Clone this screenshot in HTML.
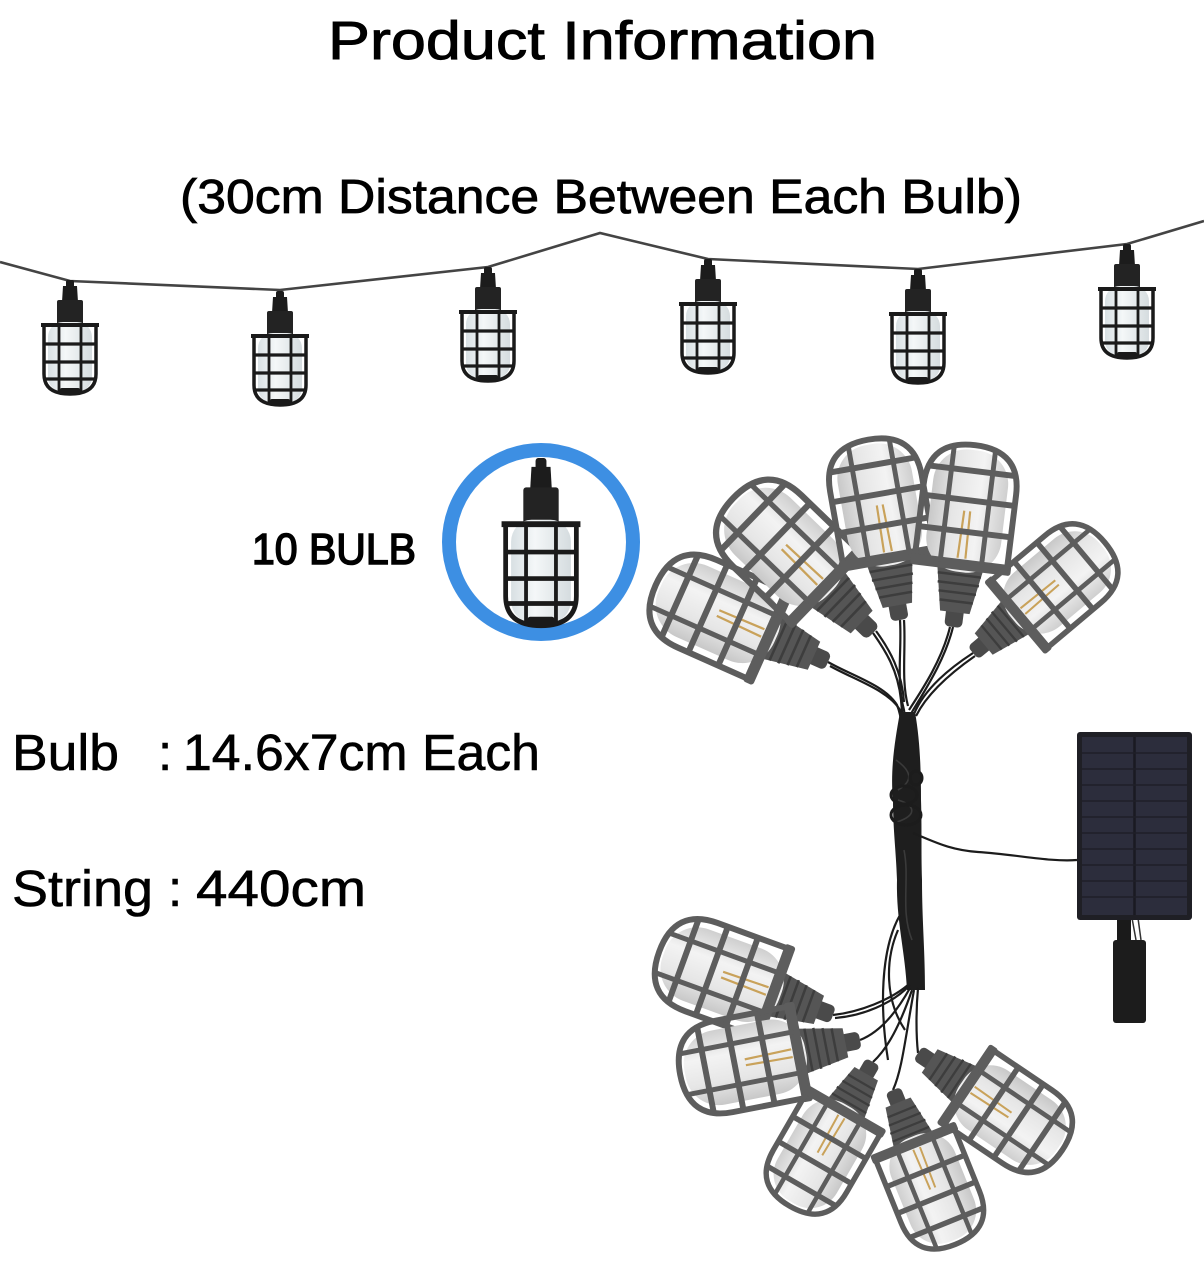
<!DOCTYPE html>
<html>
<head>
<meta charset="utf-8">
<style>
  html,body{margin:0;padding:0;background:#fff;}
  body{width:1204px;height:1280px;overflow:hidden;}
  svg{display:block;}
  .t{font-family:"Liberation Sans",sans-serif;fill:#000;stroke:#000;}
</style>
</head>
<body>
<svg width="1204" height="1280" viewBox="0 0 1204 1280" xmlns="http://www.w3.org/2000/svg">
  <defs>
    <linearGradient id="glass" x1="0" y1="0" x2="1" y2="0">
      <stop offset="0" stop-color="#cfcfcf"/>
      <stop offset="0.35" stop-color="#f3f3f3"/>
      <stop offset="0.7" stop-color="#e6e6e6"/>
      <stop offset="1" stop-color="#c8c8c8"/>
    </linearGradient>
    <linearGradient id="glass2" x1="0" y1="0" x2="1" y2="0">
      <stop offset="0" stop-color="#d8e0e3"/>
      <stop offset="0.4" stop-color="#f4f7f8"/>
      <stop offset="1" stop-color="#d5dcdf"/>
    </linearGradient>
    <g id="big">
      <rect x="-9" y="0" width="18" height="20" rx="5" fill="#4a4a4a"/>
      <path d="M-15 15 L15 15 L24 64 L-24 64 Z" fill="#555"/>
      <path d="M-17 26 H17 M-19 35 H19 M-21 44 H21 M-22 53 H22" stroke="#3d3d3d" stroke-width="2.5"/>
      <rect x="-38" y="56" width="76" height="124" rx="34" fill="url(#glass)"/>
      <path d="M-4 70 L-3 118 M4 70 L3 118" stroke="#c9a25a" stroke-width="2.2" fill="none"/>
      <path d="M-47 64 L-47 140 Q-47 185 0 185 Q47 185 47 140 L47 64" fill="none" stroke="#5d5d5d" stroke-width="6"/>
      <rect x="-51" y="58" width="102" height="11" rx="3" fill="#5d5d5d"/>
      <path d="M-48 97 H48 M-48 129 H48 M-45 159 H45" stroke="#5d5d5d" stroke-width="6"/>
      <path d="M-21 64 V183 M21 64 V183" stroke="#5d5d5d" stroke-width="5"/>
    </g>
    <g id="sm">
      <rect x="-4" y="0" width="8" height="8" rx="2" fill="#1c1c1c"/>
      <path d="M-7 6 H7 L8 22 H-8 Z" fill="#1c1c1c"/>
      <rect x="-13" y="20" width="26" height="25" rx="2" fill="#232323"/>
      <rect x="-22" y="42" width="44" height="70" rx="15" fill="url(#glass2)"/>
      <path d="M-26 45 V94 Q-26 114 0 114 Q26 114 26 94 V45" fill="none" stroke="#1a1a1a" stroke-width="3.5"/>
      <path d="M-29 45 H29" stroke="#1a1a1a" stroke-width="4"/>
      <path d="M-27 64 H27 M-27 82 H27 M-25 99 H25" stroke="#1a1a1a" stroke-width="3.2"/>
      <path d="M-11 45 V112 M11 45 V112" stroke="#1a1a1a" stroke-width="2.8"/>
      <rect x="-10" y="108" width="20" height="7" rx="2" fill="#1a1a1a"/>
    </g>
  </defs>

  <text class="t" x="328" y="59" font-size="54" stroke-width="0.9" textLength="549" lengthAdjust="spacingAndGlyphs">Product Information</text>
  <text class="t" x="180" y="213" font-size="48" stroke-width="0.8" textLength="842" lengthAdjust="spacingAndGlyphs">(30cm Distance Between Each Bulb)</text>
  <text class="t" x="252" y="564" font-size="44" stroke-width="1.6" textLength="164" lengthAdjust="spacingAndGlyphs">10 BULB</text>
  <text class="t" x="12" y="770" font-size="51" stroke-width="0.6" textLength="107" lengthAdjust="spacingAndGlyphs">Bulb</text>
  <text class="t" x="158" y="770" font-size="51" stroke-width="0.6">:</text>
  <text class="t" x="183" y="770" font-size="51" stroke-width="0.6" textLength="357" lengthAdjust="spacingAndGlyphs">14.6x7cm Each</text>
  <text class="t" x="12" y="906" font-size="51" stroke-width="0.6" textLength="141" lengthAdjust="spacingAndGlyphs">String</text>
  <text class="t" x="168" y="906" font-size="51" stroke-width="0.6">:</text>
  <text class="t" x="196" y="906" font-size="51" stroke-width="0.6" textLength="170" lengthAdjust="spacingAndGlyphs">440cm</text>

  <path d="M0 262 L70 281 L280 290 L488 267 L600 233 L708 259 L918 269 L1127 244 L1204 221" fill="none" stroke="#444" stroke-width="2.6"/>
  <use href="#sm" transform="translate(70,280)"/>
  <use href="#sm" transform="translate(280,291)"/>
  <use href="#sm" transform="translate(488,267)"/>
  <use href="#sm" transform="translate(708,259)"/>
  <use href="#sm" transform="translate(918,269)"/>
  <use href="#sm" transform="translate(1127,244)"/>

  <circle cx="541" cy="542" r="92" fill="none" stroke="#3d8fe3" stroke-width="14"/>
  <use href="#sm" transform="translate(541,458) scale(1.36,1.47)"/>

  <g fill="none" stroke="#1c1c1c" stroke-width="2.2">
    <path d="M828 662 C850 675 885 685 897 705 C903 720 903 740 904 760"/>
    <path d="M830 666 C855 680 888 690 900 710 C905 725 905 742 906 760"/>
    <path d="M873 633 C885 650 898 670 901 700 C903 720 904 740 905 760"/>
    <path d="M876 631 C890 650 902 672 904 702"/>
    <path d="M900 620 C902 650 896 680 904 710 C907 730 906 745 906 760"/>
    <path d="M904 620 C906 650 901 680 908 706"/>
    <path d="M953 627 C945 660 925 690 912 712 C907 730 907 745 907 760"/>
    <path d="M950 627 C942 660 922 690 909 710"/>
    <path d="M973 653 C950 668 925 688 914 714 C909 735 908 748 908 760"/>
    <path d="M975 656 C952 672 928 692 916 716"/>
  </g>
  <path d="M900 712 C895 740 890 770 893 800 C893 830 896 850 897 880 C896 920 905 950 907 990 L925 990 C925 950 922 920 922 880 C921 850 922 830 921 800 C921 770 920 740 915 712 Z" fill="#1e1e1e"/>
  <g fill="none" stroke="#3a3a3a" stroke-width="1.6">
    <path d="M896 760 C910 770 915 780 898 790"/>
    <path d="M898 800 C915 805 918 815 897 822"/>
    <path d="M904 850 C910 880 900 910 912 940"/>
  </g>
  <g fill="none" stroke="#1c1c1c" stroke-width="3">
    <ellipse cx="916" cy="778" rx="6" ry="7"/>
    <ellipse cx="906" cy="815" rx="15" ry="10"/>
    <ellipse cx="904" cy="795" rx="13" ry="9"/>
  </g>
  <path d="M913 833 C935 842 950 850 978 852 C1020 855 1050 862 1077 860" fill="none" stroke="#1c1c1c" stroke-width="2.2"/>
  <g fill="none" stroke="#1c1c1c" stroke-width="2.2">
    <path d="M908 985 C890 1000 860 1012 833 1015"/>
    <path d="M910 985 C892 1004 862 1016 835 1018"/>
    <path d="M910 988 C895 1015 878 1033 860 1040"/>
    <path d="M912 990 C900 1025 888 1048 873 1062"/>
    <path d="M914 990 C905 1040 902 1070 893 1090"/>
    <path d="M918 988 C916 1010 916 1035 918 1053"/>
    <path d="M900 915 C880 950 880 1010 888 1060"/>
    <path d="M898 930 C885 960 885 1000 905 1030"/>
  </g>

  <use href="#big" transform="translate(828,662) rotate(114) scale(1.02)"/>
  <use href="#big" transform="translate(873,633) rotate(134) scale(1.05)"/>
  <use href="#big" transform="translate(900,620) rotate(170) scale(0.99)"/>
  <use href="#big" transform="translate(953,627) rotate(187) scale(0.99)"/>
  <use href="#big" transform="translate(973,653) rotate(230) scale(0.93)"/>

  <use href="#big" transform="translate(918,1053) rotate(-56) scale(0.94)"/>
  <use href="#big" transform="translate(833,1015) rotate(110) scale(1)"/>
  <use href="#big" transform="translate(860,1040) rotate(79) scale(0.99)"/>
  <use href="#big" transform="translate(893,1090) rotate(-22) scale(0.9)"/>
  <use href="#big" transform="translate(873,1062) rotate(30) scale(0.9)"/>

  <rect x="1117" y="916" width="14" height="26" fill="#1a1a1a"/>
  <path d="M1132 918 L1136 940 M1138 918 L1141 940" stroke="#333" stroke-width="1.5"/>
  <rect x="1113" y="940" width="33" height="83" rx="3" fill="#1c1c1c"/>
  <rect x="1077" y="732" width="115" height="188" rx="3" fill="#1f1f25"/>
  <rect x="1082" y="737" width="105" height="178" fill="#2c2d3c"/>
  <path d="M1134.5 737 V915" stroke="#1a1a22" stroke-width="2.5"/>
  <g stroke="#1f1f28" stroke-width="1.5">
    <path d="M1082 753 H1187 M1082 769 H1187 M1082 785 H1187 M1082 801 H1187 M1082 817 H1187 M1082 833 H1187 M1082 849 H1187 M1082 865 H1187 M1082 881 H1187 M1082 897 H1187"/>
  </g>
</svg>
</body>
</html>
